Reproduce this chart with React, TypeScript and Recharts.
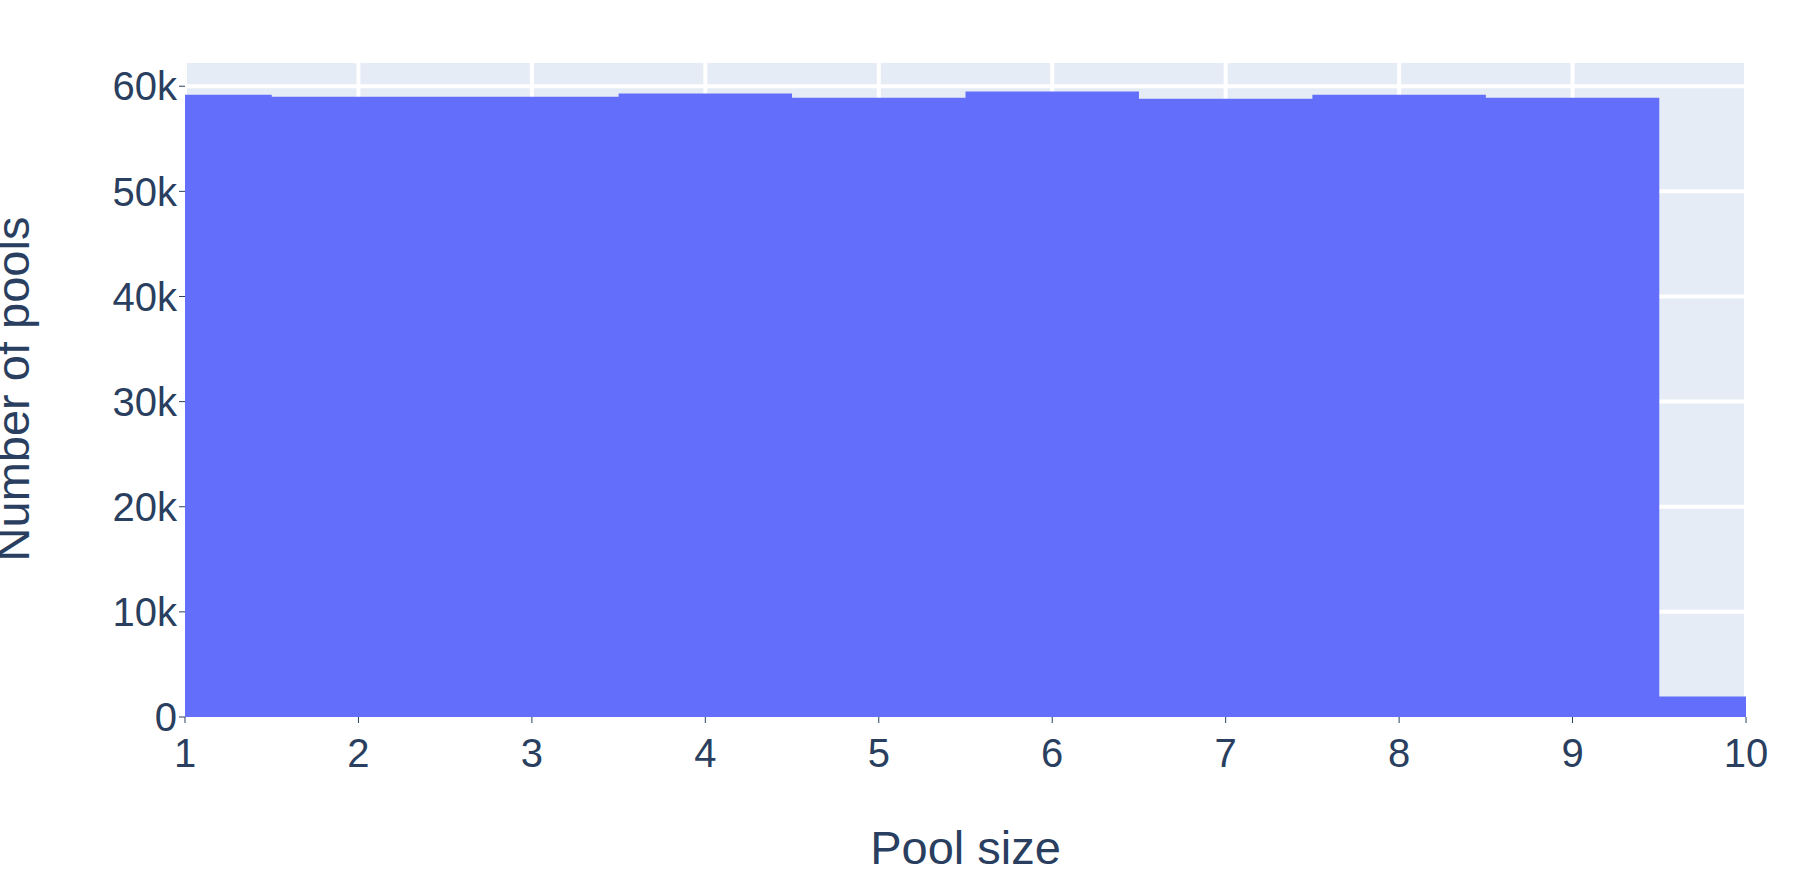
import { ComposedChart, Area, XAxis, YAxis, CartesianGrid, Label } from "recharts";

// pool sizes and the count in each bin (bins are centred on integers)
const poolSizes = [1, 2, 3, 4, 5, 6, 7, 8, 9, 10];
const poolCounts = [59200, 59000, 59000, 59300, 58900, 59500, 58800, 59200, 58900, 1950];
const xTicks = [1, 2, 3, 4, 5, 6, 7, 8, 9, 10];
const yTicks = [0, 10000, 20000, 30000, 40000, 50000, 60000];

// step outline: each bin starts half a unit before its size, clipped to the axis range
const steps = poolSizes.map((s, i) => ({ x: Math.max(1, s - 0.5), count: poolCounts[i] }));
steps.push({ x: 10, count: poolCounts[poolCounts.length - 1] });

const INK = "#2a3f5f";
const FONT = "'Liberation Sans', Arial, sans-serif";

export default function App() {
  return (
    <div style={{ position: "absolute", left: 0, top: 0, background: "#fff", fontFamily: FONT }}>
      <ComposedChart width={1817} height={872} data={steps}
        margin={{ left: 0, right: 71, top: 61, bottom: 0 }}>
        <CartesianGrid fill="#E5ECF6" stroke="#fff" strokeWidth={4} />
        <XAxis type="number" dataKey="x" domain={[1, 10]} ticks={xTicks} allowDataOverflow
          axisLine={false} tickLine={{ stroke: INK }} tickSize={6}
          tick={{ fill: INK, fontSize: 40, fontFamily: FONT, dy: 14 }} height={155}>
          <Label value="Pool size" position="insideBottom" offset={0} dy={-8}
            style={{ fill: INK, fontSize: 47, fontFamily: FONT }} />
        </XAxis>
        <YAxis type="number" domain={[0, 62400]} ticks={yTicks} allowDataOverflow
          axisLine={false} tickLine={{ stroke: INK }} tickSize={6} width={185}
          tickFormatter={(v) => (v === 0 ? "0" : `${v / 1000}k`)}
          tick={{ fill: INK, fontSize: 40, fontFamily: FONT }}>
          <Label value="Number of pools" angle={-90} position="insideLeft" offset={12}
            style={{ fill: INK, fontSize: 47, fontFamily: FONT, textAnchor: "middle" }} />
        </YAxis>
        <Area type="stepAfter" dataKey="count" fill="#636EFA" fillOpacity={1}
          stroke="none" isAnimationActive={false} dot={false} activeDot={false} />
      </ComposedChart>
    </div>
  );
}
